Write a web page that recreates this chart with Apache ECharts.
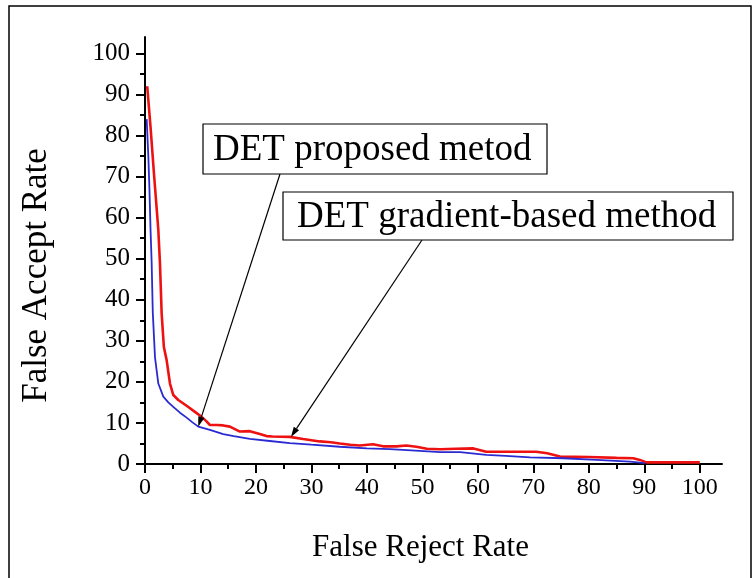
<!DOCTYPE html>
<html>
<head>
<meta charset="utf-8">
<title>DET curves</title>
<script src="https://cdn.jsdelivr.net/npm/echarts@6/dist/echarts.min.js"></script>
<style>
    html, body { margin: 0; padding: 0; background: #fff; }
    #main { width: 755px; height: 578px; }
</style>
</head>
<body>
<div id="main"></div>
<script>
'use strict';

// tick labels (both axes share 0..100 step 10, minor ticks every 5)
var majorTicks = [0, 10, 20, 30, 40, 50, 60, 70, 80, 90, 100];
var minorTicks = [5, 15, 25, 35, 45, 55, 65, 75, 85, 95];

// DET gradient-based method (red)
var gradX = [0.4, 1.0, 1.6, 2.4, 2.7, 3.0, 3.4, 3.9, 4.5, 5.1, 6.0, 7.5, 9.0, 9.9, 11.0, 11.7, 13.0, 14.1, 15.3, 16.2,
    17.1, 18.9, 20.7, 21.9, 23.0, 26.1, 28.5, 31.5, 33.5, 35.1, 37.0, 38.7, 41.1, 42.9, 45.3, 47.1, 48.9, 50.8, 53.2,
    56.0, 59.2, 61.5, 65.0, 70.5, 72.5, 74.8, 80.0, 85.0, 88.0, 89.2, 90.4, 95.0, 100];
var gradY = [92, 82, 71, 57, 48.8, 36.7, 28.5, 25.3, 19.6, 16.8, 15.6, 14.2, 12.7, 11.8, 10.5, 9.5, 9.5, 9.4, 9.1, 8.5,
    7.9, 8.0, 7.3, 6.8, 6.7, 6.6, 6.1, 5.5, 5.3, 5.0, 4.7, 4.5, 4.8, 4.3, 4.3, 4.5, 4.2, 3.7, 3.6,
    3.7, 3.8, 3.0, 3.0, 3.0, 2.6, 1.8, 1.7, 1.5, 1.4, 1.0, 0.4, 0.4, 0.4];

// DET proposed metod (blue)
var propX = [0.3, 0.6, 0.8, 1.0, 1.2, 1.4, 1.8, 2.4, 3.3, 4.2, 5.1, 6.3, 7.5, 8.5, 9.6, 11.7, 14.1, 16.0, 18.9, 22.5,
    26.1, 30.0, 35.1, 40.0, 44.1, 48.0, 53.2, 56.8, 61.5, 65.0, 69.4, 75.4, 81.4, 87.4, 90.1];
var propY = [84, 75, 67, 57, 49, 37, 26, 19.6, 16.4, 15.0, 13.9, 12.5, 11.3, 10.2, 9.1, 8.3, 7.3, 6.8, 6.1, 5.6,
    5.1, 4.7, 4.2, 3.8, 3.6, 3.3, 2.9, 2.9, 2.2, 2.0, 1.6, 1.4, 1.0, 0.6, 0.2];

// annotation targets (data coords)
var propArrowAt = [9.6, 9.1];
var gradArrowAt = [26.3, 6.6];

function pairs(xs, ys) {
    var out = [];
    for (var i = 0; i < xs.length; i++) {
        out.push([xs[i], ys[i]]);
    }
    return out;
}

var serif = '"Liberation Serif", "Times New Roman", serif';

function mainAxis(name, isY) {
    return {
        type: 'value',
        min: 0,
        max: 104,
        interval: 10,
        name: name,
        nameLocation: 'middle',
        nameGap: isY ? 91 : 68,
        nameTextStyle: {
            fontFamily: serif,
            fontSize: isY ? 35 : 31,
            color: '#000',
            // title sits a bit off the axis centre in the original
            padding: isY ? [0, 50, 0, 0] : [0, 26, 0, 0]
        },
        axisLine: { show: true, onZero: false, lineStyle: { color: '#000', width: 2 } },
        axisTick: { show: true, inside: false, length: 9, customValues: majorTicks, lineStyle: { color: '#000', width: 2 } },
        axisLabel: {
            customValues: majorTicks,
            fontFamily: serif,
            fontSize: isY ? 25 : 24,
            color: '#000',
            margin: isY ? 15 : 12
        },
        splitLine: { show: false }
    };
}

function minorAxis() {
    return {
        type: 'value',
        min: 0,
        max: 104,
        interval: 10,
        axisLine: { show: false },
        axisTick: { show: true, length: 5, customValues: minorTicks, lineStyle: { color: '#000', width: 2 } },
        axisLabel: { show: false },
        splitLine: { show: false }
    };
}

var xMain = mainAxis('False Reject Rate', false);
xMain.position = 'bottom';
var yMain = mainAxis('False Accept Rate', true);
yMain.position = 'left';
yMain.nameRotate = 90;
var xMinor = minorAxis();
xMinor.position = 'bottom';
var yMinor = minorAxis();
yMinor.position = 'left';

var chart = echarts.init(document.getElementById('main'), null, { renderer: 'canvas' });

var option = {
    animation: false,
    backgroundColor: '#fff',
    grid: { left: 145, right: 33, top: 37, bottom: 114, containLabel: false, outerBoundsMode: 'none' },
    xAxis: [xMain, xMinor],
    yAxis: [yMain, yMinor],
    series: [
        {
            name: 'DET gradient-based method',
            type: 'line',
            xAxisIndex: 0,
            yAxisIndex: 0,
            showSymbol: false,
            lineStyle: { color: '#ee1111', width: 2.6 },
            data: pairs(gradX, gradY)
        },
        {
            name: 'DET proposed metod',
            type: 'line',
            xAxisIndex: 0,
            yAxisIndex: 0,
            showSymbol: false,
            lineStyle: { color: '#2a2ad2', width: 1.8 },
            data: pairs(propX, propY)
        }
    ]
};
chart.setOption(option);

// arrow from a fixed label spot down to a curve point
function arrow(from, to) {
    var dx = to[0] - from[0], dy = to[1] - from[1];
    var len = Math.sqrt(dx * dx + dy * dy);
    var ux = dx / len, uy = dy / len;
    var hl = 10, hw = 3.2;
    var bx = to[0] - ux * hl, by = to[1] - uy * hl;
    return [
        { type: 'line', shape: { x1: from[0], y1: from[1], x2: bx, y2: by }, style: { stroke: '#000', lineWidth: 1.2 }, z: 10 },
        {
            type: 'polygon',
            shape: { points: [[to[0], to[1]], [bx - uy * hw, by + ux * hw], [bx + uy * hw, by - ux * hw]] },
            style: { fill: '#000' },
            z: 10
        }
    ];
}

function labelBox(x, y, w, h, pad, text) {
    return [
        { type: 'rect', shape: { x: x, y: y, width: w, height: h }, style: { fill: '#fff', stroke: '#000', lineWidth: 1.2 }, z: 11 },
        {
            type: 'text',
            x: x + pad,
            y: y + h / 2 + 1,
            style: { text: text, fill: '#000', font: '37px ' + serif, verticalAlign: 'middle', align: 'left' },
            z: 12
        }
    ];
}

var p1 = chart.convertToPixel({ xAxisIndex: 0, yAxisIndex: 0 }, propArrowAt);
var p2 = chart.convertToPixel({ xAxisIndex: 0, yAxisIndex: 0 }, gradArrowAt);

var g = [];
g.push({ type: 'rect', shape: { x: 9, y: 6, width: 742, height: 620 }, style: { fill: null, stroke: '#000', lineWidth: 1.5 }, silent: true });
g = g.concat(arrow([280, 174], p1));
g = g.concat(arrow([422, 240], p2));
g = g.concat(labelBox(203, 124, 344, 50, 10, 'DET proposed metod'));
g = g.concat(labelBox(283, 192, 450, 48, 14, 'DET gradient-based method'));

chart.setOption({ graphic: g });
</script>
</body>
</html>
